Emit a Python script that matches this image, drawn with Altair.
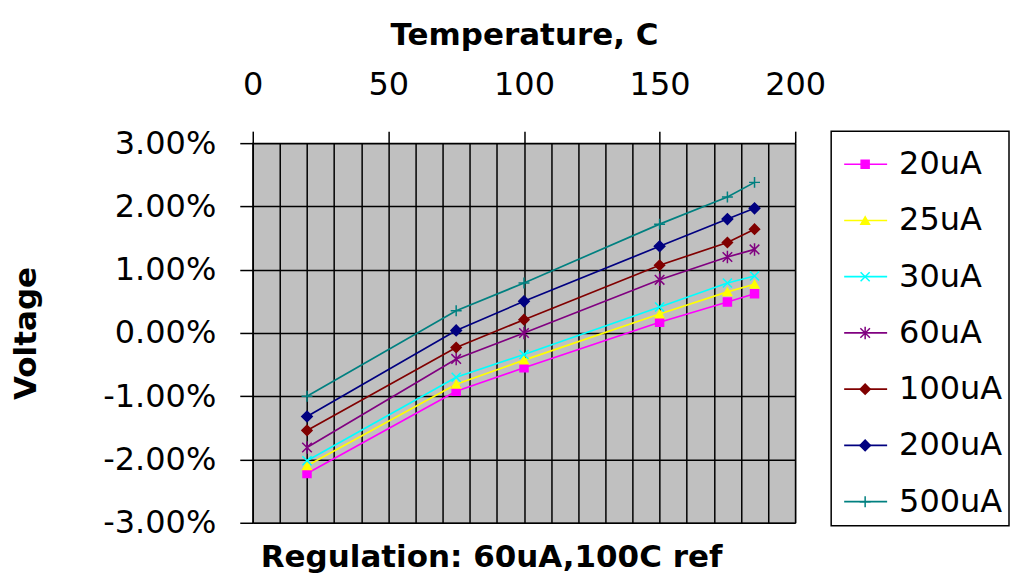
import altair as alt
import pandas as pd

TEMPS = [20, 75, 100, 150, 175, 185]
SERIES = ["20uA", "25uA", "30uA", "60uA", "100uA", "200uA", "500uA"]
V_20UA = [-2.22, -0.92, -0.55, 0.17, 0.49, 0.62]
V_25UA = [-2.10, -0.81, -0.43, 0.30, 0.65, 0.77]
V_30UA = [-2.02, -0.70, -0.34, 0.41, 0.79, 0.90]
V_60UA = [-1.81, -0.41, 0.00, 0.84, 1.20, 1.32]
V_100UA = [-1.54, -0.23, 0.21, 1.07, 1.43, 1.64]
V_200UA = [-1.32, 0.04, 0.50, 1.37, 1.80, 1.97]
V_500UA = [-1.00, 0.35, 0.79, 1.72, 2.15, 2.38]
X_TICKS = list(range(0, 201, 10))
Y_TICKS = [-3, -2, -1, 0, 1, 2, 3]

VALUES = [V_20UA, V_25UA, V_30UA, V_60UA, V_100UA, V_200UA, V_500UA]

COLORS = ["#FF00FF", "#FFFF00", "#00FFFF", "#800080", "#800000", "#000080", "#008080"]
FILLS = ["#FF00FF", "#FFFF00", "transparent", "transparent", "#800000", "#000080", "transparent"]
SHAPES = [
    "square",
    "triangle-up",
    "M-1,-1L1,1M-1,1L1,-1",
    "M-1,-1L1,1M-1,1L1,-1M0,-1.3L0,1.3",
    "diamond",
    "diamond",
    "M-1,0L1,0M0,-1L0,1",
]
SIZES = [64, 120, 64, 81, 100, 100, 90]

FONT = "DejaVu Sans"

rows = []
for s, vals in zip(SERIES, VALUES):
    for t, v in zip(TEMPS, vals):
        rows.append({"series": s, "temp": t, "value": v})
df = pd.DataFrame(rows)

color_scale = alt.Scale(domain=SERIES, range=COLORS)
fill_scale = alt.Scale(domain=SERIES, range=FILLS)
shape_scale = alt.Scale(domain=SERIES, range=SHAPES)
size_scale = alt.Scale(domain=SERIES, range=SIZES)

x_enc = alt.X(
    "temp:Q",
    scale=alt.Scale(domain=[0, 200], nice=False, zero=False),
    axis=alt.Axis(
        orient="top",
        values=X_TICKS,
        labelExpr="datum.value % 50 === 0 ? datum.label : ''",
        labelOverlap=False,
        labelFlush=False,
        tickOpacity={"condition": {"test": "datum.value % 50 === 0", "value": 1}, "value": 0},
        grid=True,
        gridColor="#000000",
        gridWidth=1.5,
        gridOpacity=1,
        domain=False,
        tickColor="#000000",
        tickSize=12,
        tickWidth=1.5,
        labelFont=FONT,
        labelFontSize=32,
        labelColor="#000000",
        labelPadding=30,
        title="Temperature, C",
        titleFont=FONT,
        titleFontSize=31,
        titleFontWeight="bold",
        titleColor="#000000",
        titlePadding=17,
    ),
)
y_enc = alt.Y(
    "value:Q",
    scale=alt.Scale(domain=[-3, 3], nice=False, zero=False),
    axis=alt.Axis(
        values=Y_TICKS,
        labelExpr="(datum.value < 0 ? '-' : '') + format(abs(datum.value), '.2f') + '%'",
        labelOverlap=False,
        labelFlush=False,
        grid=True,
        gridColor="#000000",
        gridWidth=1.5,
        gridOpacity=1,
        domain=True,
        domainColor="#000000",
        domainWidth=1.5,
        tickColor="#000000",
        tickSize=13,
        tickWidth=1.5,
        labelFont=FONT,
        labelFontSize=32,
        labelColor="#000000",
        labelPadding=24,
        title="Voltage",
        titleFont=FONT,
        titleFontSize=31,
        titleFontWeight="bold",
        titleColor="#000000",
        titlePadding=60,
    ),
)

base = alt.Chart(df).encode(x=x_enc, y=y_enc)

lines = base.mark_line(strokeWidth=1.7).encode(
    color=alt.Color("series:N", scale=color_scale, legend=None),
)
points = base.mark_point(filled=False, opacity=1, strokeWidth=1.5).encode(
    shape=alt.Shape("series:N", scale=shape_scale, legend=None),
    stroke=alt.Stroke("series:N", scale=color_scale, legend=None),
    fill=alt.Fill("series:N", scale=fill_scale, legend=None),
    size=alt.Size("series:N", scale=size_scale, legend=None),
)

main = alt.layer(lines, points).properties(
    width=543,
    height=380,
    view=alt.ViewBackground(fill="#C0C0C0", stroke="#808080", strokeWidth=1.5),
    title=alt.TitleParams(
        "Regulation: 60uA,100C ref",
        orient="bottom",
        frame="group",
        anchor="start",
        dx=8,
        font=FONT,
        fontSize=31,
        fontWeight="bold",
        color="#000000",
        offset=4,
    ),
)

leg_df = pd.DataFrame({"series": SERIES})
frame_df = pd.DataFrame({"box": [1]})
ly = alt.Y("series:N", scale=alt.Scale(type="point", domain=SERIES, padding=0.375), axis=None)

frame = alt.Chart(frame_df).mark_rect(fill="#FFFFFF", stroke="#000000", strokeWidth=1.5).encode(
    x=alt.value(0), x2=alt.value(178), y=alt.value(-12), y2=alt.value(383)
)
leg_rules = alt.Chart(leg_df).mark_rule(strokeWidth=1.7).encode(
    x=alt.value(13), x2=alt.value(56), y=ly,
    color=alt.Color("series:N", scale=color_scale, legend=None),
)
leg_pts = alt.Chart(leg_df).mark_point(filled=False, opacity=1, strokeWidth=1.5).encode(
    x=alt.value(34), y=ly,
    shape=alt.Shape("series:N", scale=shape_scale, legend=None),
    stroke=alt.Stroke("series:N", scale=color_scale, legend=None),
    fill=alt.Fill("series:N", scale=fill_scale, legend=None),
    size=alt.Size("series:N", scale=size_scale, legend=None),
)
leg_txt = alt.Chart(leg_df).mark_text(
    align="left", baseline="middle", font=FONT, fontSize=32, color="#000000"
).encode(x=alt.value(68), y=ly, text="series:N")

legend = alt.layer(frame, leg_rules, leg_pts, leg_txt).properties(
    width=178,
    height=380,
    view=alt.ViewBackground(strokeWidth=0, fillOpacity=0),
)

chart = (
    alt.hconcat(main, legend, spacing=36, bounds="flush")
    .resolve_scale(x="independent", y="independent")
    .properties(padding={"left": 2, "top": 10, "right": 0, "bottom": 0})
    .configure(background="#FFFFFF")
)

chart.save("out.html", embed_options={"renderer": "svg", "actions": False})
